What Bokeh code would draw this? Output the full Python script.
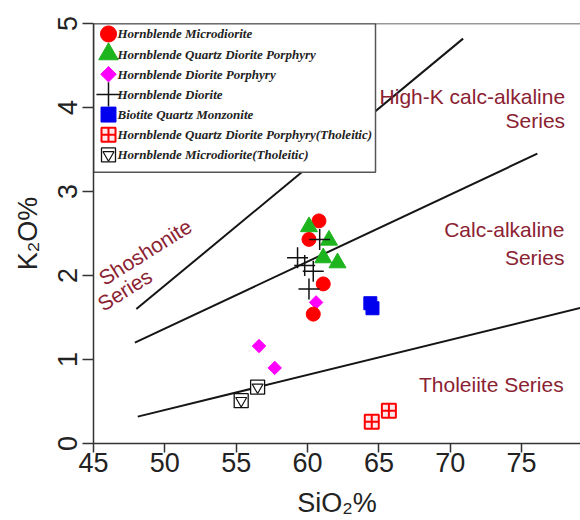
import math
from bokeh.plotting import figure
from bokeh.models import Range1d, Span, FixedTicker
from bokeh.core.properties import value
from bokeh.embed import file_html
from bokeh.resources import INLINE

# ---------------- data ----------------
hm_sio2 = [60.8, 60.1, 61.1, 60.4]          # Hornblende Microdiorite
hm_k2o = [2.65, 2.43, 1.90, 1.54]
hqdp_sio2 = [60.1, 61.5, 61.1, 62.1]        # Hornblende Quartz Diorite Porphyry
hqdp_k2o = [2.58, 2.42, 2.21, 2.15]
hdp_sio2 = [60.6, 56.6, 57.7]               # Hornblende Diorite Porphyry
hdp_k2o = [1.68, 1.16, 0.90]
hd_sio2 = [60.85, 59.3, 59.8, 60.4, 60.1]   # Hornblende Diorite
hd_k2o = [2.43, 2.21, 2.12, 2.05, 1.84]
bqm_sio2 = [64.4, 64.55]                    # Biotite Quartz Monzonite
bqm_k2o = [1.67, 1.61]
hqdpt_sio2 = [64.5, 65.7]                   # Hornblende Quartz Diorite Porphyry (Tholeitic)
hqdpt_k2o = [0.26, 0.39]
hmt_sio2 = [55.35, 56.5]                    # Hornblende Microdiorite (Tholeitic)
hmt_k2o = [0.51, 0.67]

# series boundary lines
sho_sio2 = [48.0, 70.9]
sho_k2o = [1.60, 4.82]
cak_sio2 = [47.9, 76.1]
cak_k2o = [1.20, 3.45]
tho_sio2 = [48.1, 80.0]
tho_k2o = [0.32, 1.65]

x_ticks = [45, 50, 55, 60, 65, 70, 75]
y_ticks = [0, 1, 2, 3, 4, 5]

legend_labels = [
    "Hornblende Microdiorite",
    "Hornblende  Quartz Diorite Porphyry",
    "Hornblende  Diorite Porphyry",
    "Hornblende  Diorite",
    "Biotite Quartz Monzonite",
    "Hornblende Quartz Diorite Porphyry(Tholeitic)",
    "Hornblende Microdiorite(Tholeitic)",
]
series_names = ["High-K calc-alkaline", "Series", "Calc-alkaline", "Series",
                "Tholeiite Series", "Shoshonite", "Series"]

# ---------------- layout ----------------
W, H = 580, 520
FL, FT, FR = 93, 23, 0
FRAME_W = W - FL - FR
FRAME_H = 421
FB = H - FT - FRAME_H
X0 = 45.0
X1 = X0 + FRAME_W / 14.27
Y0, Y1 = 0.0, 5.0
sx = (X1 - X0) / FRAME_W      # data units per pixel
sy = (Y1 - Y0) / FRAME_H

p = figure(width=W, height=H, output_backend="svg", toolbar_location=None,
           x_range=Range1d(X0, X1), y_range=Range1d(Y0, Y1),
           min_border_left=FL, min_border_top=FT, min_border_right=FR,
           min_border_bottom=FB, background_fill_color="white",
           border_fill_color="white")
p.outline_line_color = None
p.xgrid.visible = False
p.ygrid.visible = False

AX = "#333333"
for ax in (p.xaxis[0], p.yaxis[0]):
    ax.axis_line_color = AX
    ax.axis_line_width = 1.5
    ax.major_tick_line_color = AX
    ax.major_tick_line_width = 1.5
    ax.major_tick_in = 0
    ax.minor_tick_line_color = None
    ax.major_label_text_font = "Liberation Sans"
    ax.major_label_text_font_size = "27px"
    ax.major_label_text_color = "#222222"
    ax.axis_label_text_font = "Liberation Sans"
    ax.axis_label_text_font_size = "27px"
    ax.axis_label_text_font_style = "normal"
    ax.axis_label_text_color = "#222222"

p.xaxis.ticker = FixedTicker(ticks=x_ticks)
p.yaxis.ticker = FixedTicker(ticks=y_ticks)
p.xaxis.major_tick_out = 9
p.yaxis.major_tick_out = 11
p.xaxis.major_label_standoff = 0
p.yaxis.major_label_standoff = 6
p.yaxis.major_label_orientation = "parallel"
p.xaxis.axis_label = "SiO\u2082%"
p.yaxis.axis_label = "K\u2082O%"
p.xaxis.axis_label_standoff = 13
p.yaxis.axis_label_standoff = 12

p.add_layout(Span(location=Y1, dimension="width", line_color=AX, line_width=1.5))

# boundary lines
for xs, ys in ((sho_sio2, sho_k2o), (cak_sio2, cak_k2o), (tho_sio2, tho_k2o)):
    p.line(xs, ys, line_color="#151515", line_width=2)

# series names
TXT = "#8B2232"
name_pos = [(78.05, 4.13, "right", 0), (78.05, 3.84, "right", 0),
            (78.0, 2.55, "right", 0), (78.0, 2.22, "right", 0),
            (77.95, 0.70, "right", 0), (48.62, 2.28, "center", 0.56),
            (47.19, 1.83, "center", 0.56)]
for name, (tx, ty, al, ang) in zip(series_names, name_pos):
    p.text(x=[tx], y=[ty], text=[name], text_font=value("Liberation Sans"),
           text_font_size="21px", text_color=TXT, text_align=al,
           text_baseline="middle", angle=ang)

RED, GREEN, MAG, BLUE = "#ff0000", "#1eb41e", "#ff00ff", "#0000ee"


def draw(kind, xs, ys, big=False):
    s = 1.15 if big else 1.0
    if kind == 0:
        p.scatter(xs, ys, marker="circle", size=14 * s, fill_color=RED, line_color=RED)
    elif kind == 1:
        p.scatter(xs, ys, marker="triangle", size=17 * s, fill_color=GREEN, line_color=GREEN)
    elif kind == 2:
        p.scatter(xs, ys, marker="square", angle=math.pi / 4, size=9.5 * s,
                  fill_color=MAG, line_color=MAG)
    elif kind == 3:
        p.scatter(xs, ys, marker="cross", size=21 * s, line_color="#111111", line_width=1.5)
    elif kind == 4:
        p.scatter(xs, ys, marker="square", size=13 * s, fill_color=BLUE, line_color=BLUE)
    elif kind == 5:
        p.scatter(xs, ys, marker="square_cross", size=14, fill_color="#ffe8ec",
                  line_color=RED, line_width=2)
    elif kind == 6:
        p.scatter(xs, ys, marker="square", size=14, fill_color="white",
                  line_color="#111111", line_width=1.3)
        p.scatter(xs, ys, marker="inverted_triangle", size=11, fill_color=None,
                  line_color="#111111", line_width=1.2)


groups = [(hm_sio2, hm_k2o), (hqdp_sio2, hqdp_k2o), (hdp_sio2, hdp_k2o), (hd_sio2, hd_k2o),
          (bqm_sio2, bqm_k2o), (hqdpt_sio2, hqdpt_k2o), (hmt_sio2, hmt_k2o)]
draw_order = [4, 5, 6, 2, 0, 1, 3]
for k in draw_order:
    draw(k, *groups[k])

# ---------------- legend box (top-left, inside the frame) ----------------
LW, LH = 282, 149           # box size in px
ROW0, ROW = 10.5, 20.2      # first row centre and row pitch in px
SYM_X, TXT_X = 15, 24       # symbol centre / text start from box left, px
p.quad(left=[X0], right=[X0 + LW * sx], top=[Y1], bottom=[Y1 - LH * sy],
       fill_color="white", line_color="#555555", line_width=1.5)
row_y = [Y1 - (ROW0 + ROW * i) * sy for i in range(len(legend_labels))]
for i in range(len(legend_labels)):
    draw(i, [X0 + SYM_X * sx], [row_y[i]], big=True)
p.text(x=[X0 + TXT_X * sx] * len(legend_labels), y=row_y, text=legend_labels,
       text_font=value("Liberation Serif"), text_font_style="bold italic",
       text_font_size="13px", text_color="#222222", text_align="left",
       text_baseline="middle")

open("out.html", "w").write(file_html(p, INLINE))
